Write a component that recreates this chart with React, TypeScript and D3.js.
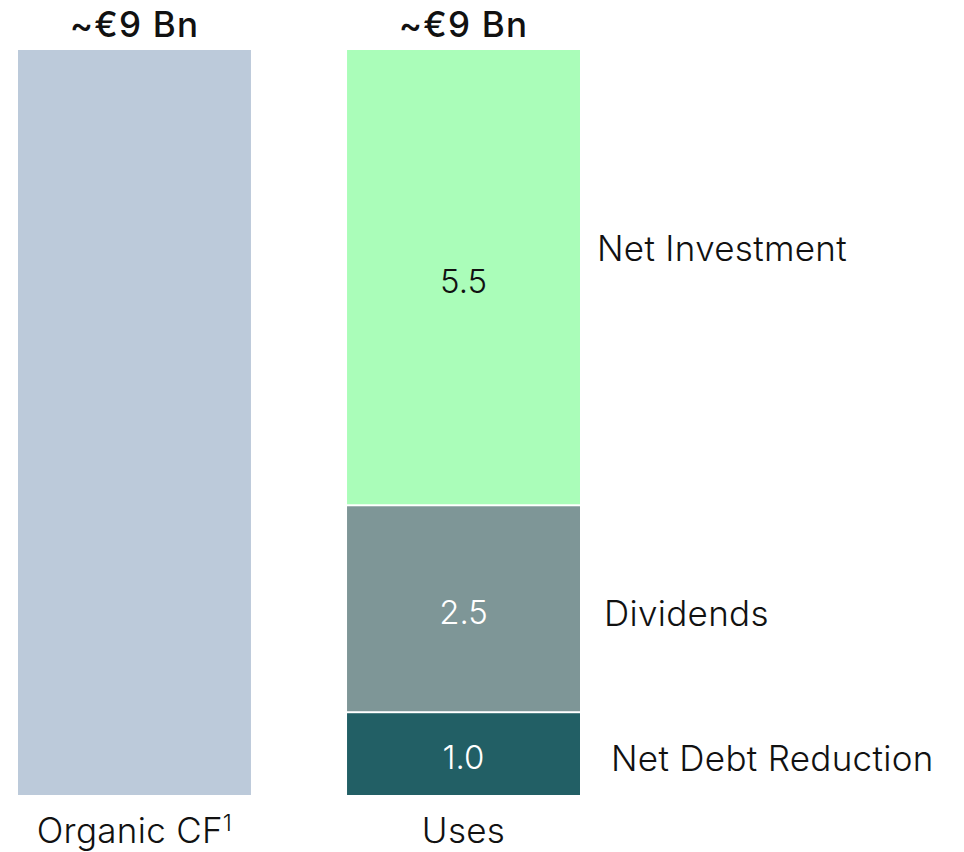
import React from "react";
import * as d3 from "d3";

const categories = ["Organic CF", "Uses"];
const totals = ["~€9 Bn", "~€9 Bn"];
const organicTotal = 9;
const useNames = ["Net Debt Reduction", "Dividends", "Net Investment"];
const useValues = [1.0, 2.5, 5.5];
const useColors = ["#225F65", "#7E9697", "#AAFDB9"];
const valueTextColors = ["#FFFFFF", "#FFFFFF", "#111111"];
const organicColor = "#BCCADA";

const W = 964;
const H = 852;
const FONT = "Inter, 'Noto Sans', sans-serif";

export default function App() {
  const x = d3
    .scaleBand<string>()
    .domain(categories)
    .range([18, 580])
    .paddingInner(0.292)
    .paddingOuter(0);
  const y = d3.scaleLinear().domain([0, 9]).range([795, 50]);
  const bw = x.bandwidth();

  const stackData = [
    Object.fromEntries(useNames.map((n, i) => [n, useValues[i]])),
  ];
  const series = d3.stack<any>().keys(useNames)(stackData);

  const ux = x("Uses")!;
  const ox = x("Organic CF")!;
  const labelDx = [31, 24, 17];
  const labelDy = [4, 4, -30];
  const valueDy = [3, 3, 3];
  const gap = 1;

  return (
    <svg
      width={W}
      height={H}
      style={{ position: "absolute", left: 0, top: 0, background: "#fff" }}
      fontFamily={FONT}
    >
      <rect
        x={ox}
        y={y(organicTotal)}
        width={bw}
        height={y(0) - y(organicTotal)}
        fill={organicColor}
      />
      {series.map((s, i) => {
        const [a, b] = s[0];
        const top = y(b) + (i === series.length - 1 ? 0 : gap);
        const bottom = y(a) - (i === 0 ? 0 : gap);
        const cy = (y(a) + y(b)) / 2;
        return (
          <g key={s.key}>
            <rect x={ux} y={top} width={bw} height={bottom - top} fill={useColors[i]} />
            <text
              x={ux + bw / 2}
              y={cy + valueDy[i]}
              textAnchor="middle"
              dominantBaseline="central"
              fontSize={33}
              fontWeight={350}
              fill={valueTextColors[i]}
            >
              {useValues[i].toFixed(1)}
            </text>
            <text
              x={ux + bw + labelDx[i]}
              y={cy + labelDy[i]}
              dominantBaseline="central"
              fontSize={35}
              fontWeight={350}
              letterSpacing={0.3}
              fill="#111"
            >
              {s.key}
            </text>
          </g>
        );
      })}
      {categories.map((c, i) => (
        <text
          key={"t" + c}
          x={x(c)! + bw / 2}
          y={37}
          textAnchor="middle"
          fontSize={35}
          fontWeight={500}
          letterSpacing={1.2}
          fill="#111"
        >
          {totals[i]}
        </text>
      ))}
      <text x={ox + bw / 2} y={843} textAnchor="middle" fontSize={35} fontWeight={350} letterSpacing={0.3} fill="#111">
        Organic CF
        <tspan fontSize={23} dy={-12}>1</tspan>
      </text>
      <text x={ux + bw / 2} y={843} textAnchor="middle" fontSize={35} fontWeight={350} letterSpacing={0.3} fill="#111">
        Uses
      </text>
    </svg>
  );
}
